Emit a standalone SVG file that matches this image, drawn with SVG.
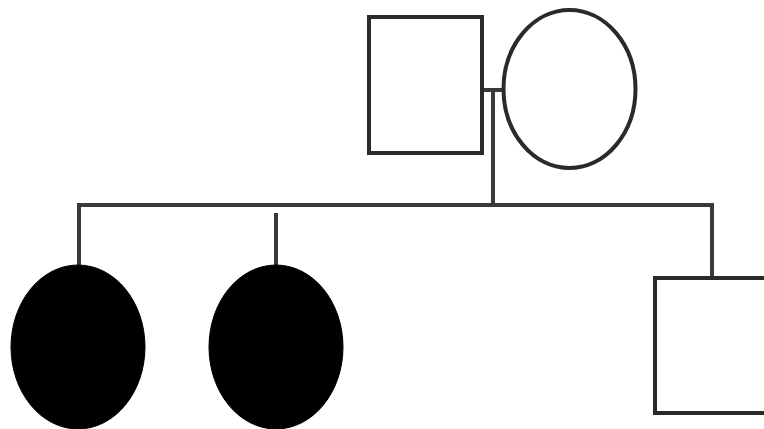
<svg xmlns="http://www.w3.org/2000/svg" width="764" height="429" viewBox="0 0 764 429">
<style>
.ln{stroke:#3a3a3a;stroke-width:4;fill:none}
.open{fill:#fff;stroke:#2a2a2a;stroke-width:4}
.aff{fill:#000;stroke:#000;stroke-width:1}
</style>
<rect width="764" height="429" fill="#fff"/>
<g id="connectors">
<path class="ln" d="M483 90 H502"/>
<path class="ln" d="M493 90 V205"/>
<path class="ln" d="M79 265 V205 H712 V278"/>
<path class="ln" d="M276 213 V265"/>
</g>
<g id="father"><rect class="open" x="369" y="17" width="113" height="136"/></g>
<g id="mother"><ellipse class="open" cx="569.5" cy="89" rx="66" ry="79"/></g>
<g id="daughter1"><ellipse class="aff" cx="78" cy="347" rx="67" ry="82"/></g>
<g id="daughter2"><ellipse class="aff" cx="276" cy="347" rx="67" ry="82"/></g>
<g id="son"><rect class="open" x="655" y="278" width="113" height="135"/></g>
</svg>
